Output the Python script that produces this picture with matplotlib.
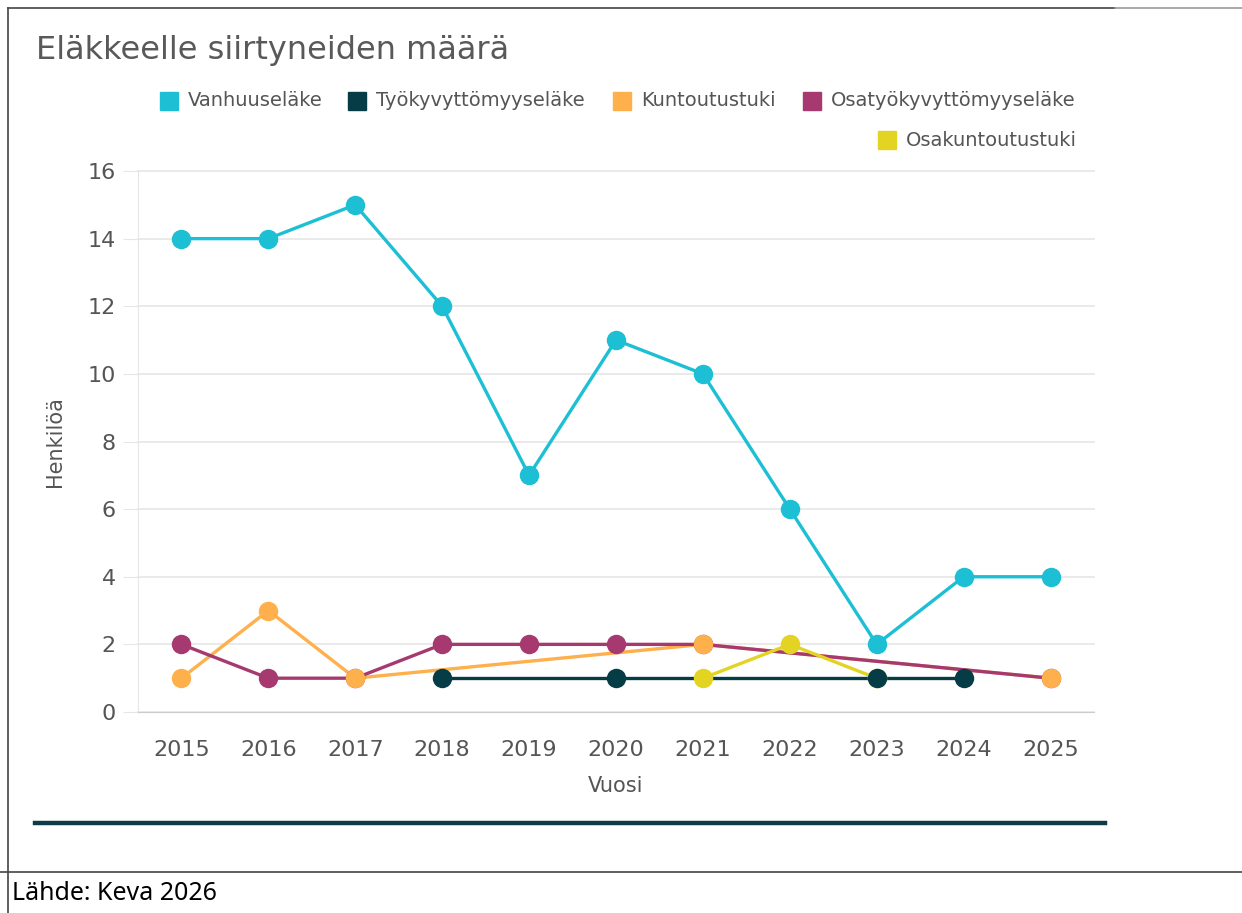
import numpy as np
import matplotlib.pyplot as plt
from matplotlib.patches import Rectangle
from matplotlib.lines import Line2D

plt.rcParams['font.family'] = ['DejaVu Sans']

years = [2015, 2016, 2017, 2018, 2019, 2020, 2021, 2022, 2023, 2024, 2025]
nan = np.nan
vanhuus = [14, 14, 15, 12, 7, 11, 10, 6, 2, 4, 4]
tyokyv = [nan, nan, nan, 1, nan, 1, nan, nan, 1, 1, nan]
kuntoutus = [1, 3, 1, nan, nan, nan, 2, nan, nan, nan, 1]
osatyokyv = [2, 1, 1, 2, 2, 2, 2, nan, nan, nan, 1]
osakuntoutus = [nan, nan, nan, nan, nan, nan, 1, 2, 1, nan, nan]

names = ["Vanhuuseläke", "Työkyvyttömyyseläke", "Kuntoutustuki",
         "Osatyökyvyttömyyseläke", "Osakuntoutustuki"]
series = [vanhuus, tyokyv, kuntoutus, osatyokyv, osakuntoutus]
colors = ["#1cbfd3", "#053c45", "#fdb04b", "#a63a70", "#e3d423"]
marker_z = [3.0, 3.5, 3.3, 3.1, 3.2]

fig = plt.figure(figsize=(12.42, 9.13), dpi=100)
ax = fig.add_axes([138/1242, 1-712/913, (1094-138)/1242, (712-171)/913])

x = np.array(years, dtype=float)
for vals, c, mz in zip(series, colors, marker_z):
    v = np.array(vals, dtype=float)
    ok = ~np.isnan(v)
    ax.plot(x[ok], v[ok], color=c, lw=2.4, zorder=2, clip_on=False)
    ax.plot(x[ok], v[ok], ls="none", marker="o", ms=14, color=c,
            markeredgewidth=0, zorder=mz, clip_on=False)

ax.set_xlim(2014.5, 2025.5)
ax.set_ylim(0, 16)
ax.set_yticks(range(0, 17, 2))
ax.set_xticks(years)
ax.grid(axis="y", color="#e6e6e6", lw=1.2)
for gl in ax.get_ygridlines():
    gl.set_clip_on(False)
ax.set_axisbelow(True)
for s in ["top", "right"]:
    ax.spines[s].set_visible(False)
ax.spines["left"].set_color("#e6e6e6")
ax.spines["bottom"].set_color("#cccccc")
ax.tick_params(axis="y", length=11, color="#e6e6e6", pad=5,
               labelsize=16, labelcolor="#555555")
ax.tick_params(axis="x", length=0, pad=20, labelsize=16, labelcolor="#555555")
ax.set_ylabel("Henkilöä", fontsize=15, color="#555555", labelpad=16)
ax.set_xlabel("Vuosi", fontsize=15, color="#555555", labelpad=12)

fig.text(36/1242, 1-50/913, "Eläkkeelle siirtyneiden määrä", fontsize=23,
         color="#595959", va="center", ha="left")

# legend
leg_pos = [(160, 101), (348, 101), (613, 101), (803, 101), (878, 140)]
for (px, py), name, c in zip(leg_pos, names, colors):
    fig.patches.append(Rectangle((px/1242, 1-(py+9)/913), 18/1242, 18/913,
                                 transform=fig.transFigure, color=c))
    fig.text((px+28)/1242, 1-py/913, name, fontsize=14, color="#555555",
             va="center", ha="left")

# bottom line and frame
fig.add_artist(Line2D([35/1242, 1105/1242], [1-823/913, 1-823/913],
                      color="#0d3b48", lw=3.2, transform=fig.transFigure))
fig.add_artist(Line2D([8/1242, 8/1242], [0, 1-8/913], color="#444444",
                      lw=1.2, transform=fig.transFigure))
fig.add_artist(Line2D([8/1242, 1115/1242], [1-8/913, 1-8/913], color="#444444",
                      lw=1.2, transform=fig.transFigure))
fig.add_artist(Line2D([1115/1242, 1], [1-8/913, 1-8/913], color="#999999",
                      lw=1.2, transform=fig.transFigure))
fig.add_artist(Line2D([0, 1], [1-872/913, 1-872/913], color="#444444",
                      lw=1.2, transform=fig.transFigure))
fig.text(12/1242, 1-893/913, "Lähde: Keva 2026", fontsize=18,
         family="Noto Sans", color="#000000", va="center", ha="left")

fig.savefig("out.png", dpi=100)
